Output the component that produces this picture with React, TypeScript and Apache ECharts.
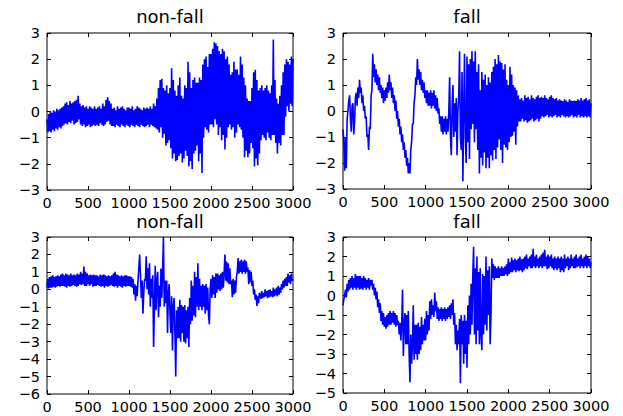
import React, { useEffect, useRef } from "react";
import * as echarts from "echarts";

// sample spacing along x (samples index)
const STEP = 10;
const xTicks = [0, 500, 1000, 1500, 2000, 2500, 3000];
const titles = ["non-fall", "fall", "non-fall", "fall"];
const yRanges = [
  [-3, 3],
  [-3, 3],
  [-6, 3],
  [-5, 3],
];

// values (upper / lower envelope alternately), one every 10 samples, rows of 200 samples
const nonFallTop = [
  -0.3, -0.8, -0.1, -0.75, 0.0, -0.8, -0.05, -0.7, 0.05, -0.75, 0.0, -0.65, 0.1, -0.7, 0.05, -0.6, 0.1, -0.65, 0.15, -0.55,
  0.2, -0.5, 0.3, -0.45, 0.35, -0.5, 0.25, -0.4, 0.4, -0.45, 0.3, -0.35, 0.35, -0.5, 0.4, -0.45, 0.45, -0.4, 0.6, -0.3,
  0.3, -0.5, 0.2, -0.55, 0.25, -0.5, 0.15, -0.6, 0.2, -0.55, 0.1, -0.5, 0.2, -0.6, 0.15, -0.55, 0.1, -0.5, 0.2, -0.55,
  0.1, -0.5, 0.15, -0.55, 0.2, -0.45, 0.1, -0.5, 0.3, -0.55, 0.2, -0.5, 0.45, -0.4, 0.55, -0.35, 0.4, -0.5, 0.3, -0.55,
  0.1, -0.55, 0.15, -0.6, 0.05, -0.5, 0.2, -0.55, 0.1, -0.6, 0.15, -0.5, 0.2, -0.55, 0.1, -0.6, 0.05, -0.5, 0.15, -0.55,
  0.15, -0.6, 0.1, -0.5, 0.2, -0.55, 0.05, -0.6, 0.1, -0.5, 0.2, -0.55, 0.15, -0.6, 0.1, -0.5, 0.05, -0.55, 0.15, -0.6,
  0.1, -0.55, 0.15, -0.5, 0.1, -0.6, 0.2, -0.5, 0.1, -0.55, 0.3, -0.6, 0.2, -0.65, 0.5, -0.7, 0.9, -0.8, 1.2, -0.6,
  1.25, -1.0, 0.9, -0.85, 0.8, -1.3, 1.0, -1.2, 0.7, -1.1, 0.9, -1.4, 1.65, -1.8, 1.2, -1.6, 0.8, -1.9, 0.6, -1.85,
  1.0, -1.7, 1.3, -1.6, 0.6, -1.95, 0.5, -1.8, 1.0, -1.5, 0.9, -1.7, 1.9, -2.1, 1.5, -1.9, 0.9, -2.2, 1.2, -1.6,
  1.3, -1.5, 1.1, -1.3, 1.1, -1.9, 1.3, -1.6, 1.2, -2.35, 1.8, -1.0, 2.0, -0.6, 2.1, -0.7, 1.7, -0.8, 2.2, -0.5,
  2.2, -0.5, 2.4, -0.6, 2.65, -0.3, 2.6, -0.5, 2.5, -0.9, 2.3, -0.6, 2.2, -1.1, 2.4, -0.9, 2.3, -1.45, 2.0, -1.0,
  2.1, -0.6, 1.8, -0.5, 1.4, -0.7, 1.5, -0.6, 1.9, -1.0, 1.6, -0.8, 1.6, -0.5, 1.4, -0.6, 2.1, -0.7, 1.8, -1.0,
  1.3, -1.75, 1.0, -1.5, 0.5, -1.75, 0.4, -1.6, 0.4, -1.2, 0.9, -1.4, 1.5, -2.1, 1.6, -1.8, 1.2, -2.05, 0.8, -1.6,
  0.9, -1.1, 1.0, -0.9, 0.8, -1.0, 0.9, -1.1, 1.0, -0.8, 0.8, -1.0, 0.7, -1.1, 1.0, -0.9, 2.75, -0.9, 1.2, -1.2,
  0.5, -1.6, 0.3, -1.2, 0.6, -1.3, 1.0, -0.9, 1.5, -0.9, 1.8, -0.2, 2.0, 0.2, 1.9, 0.0, 1.8, 0.3, 2.1, 0.2,
  2.0,
];

const fallTop = [
  -0.7, -1.2, -2.3, -1.0, -2.2, -0.3, 0.0, 0.4, 0.6, -0.3, -0.8, 0.2, 0.3, -0.9, -0.4, 0.5, 0.7, 0.2, 0.9, 0.5,
  1.2, 0.7, 0.9, 0.3, 0.6, 0.0, 0.2, -0.3, -0.2, -1.0, -0.9, -1.5, -0.6, -0.7, 0.6, 0.8, 2.2, 1.3, 1.8, 1.1,
  1.6, 1.0, 1.4, 0.8, 1.3, 0.7, 1.0, 0.5, 0.9, 0.3, 0.8, 0.4, 0.9, 0.5, 1.1, 0.7, 1.4, 0.8, 1.1, 0.5,
  0.9, 0.3, 0.6, 0.0, 0.4, -0.3, 0.0, -0.6, -0.3, -0.9, -0.6, -1.2, -0.9, -1.5, -1.2, -1.8, -1.5, -2.1, -1.8, -2.4,
  -2.0, -2.4, -1.5, -1.2, -0.5, -0.5, 0.3, 0.6, 1.3, 1.0, 2.0, 1.2, 1.6, 1.0, 1.5, 0.8, 1.2, 0.7, 1.1, 0.5,
  0.8, 0.3, 0.8, 0.2, 0.7, 0.2, 0.8, 0.1, 0.7, 0.2, 0.8, 0.1, 0.6, 0.0, 0.5, -0.1, 0.1, -0.5, -0.2, -0.8,
  -0.2, -0.9, -0.3, -0.8, -0.2, -0.9, -0.3, -0.8, 0.0, 1.3, -1.0, -1.7, 0.2, 1.0, -1.0, 0.3, -0.8, 0.5, -1.7, 0.0,
  0.5, 2.3, -1.0, -1.5, 1.5, -2.7, 0.0, 2.2, -1.0, -2.0, 2.1, -1.2, 1.8, -1.85, 2.0, -0.7, 2.3, -0.5, 1.9, -1.2,
  2.3, -0.7, 1.5, -1.5, 1.8, -2.4, 0.8, -1.8, 1.5, -2.1, 1.2, -1.6, 1.4, -2.2, 1.0, -1.8, 1.3, -2.2, 1.1, -1.7,
  1.5, -1.9, 1.7, -1.5, 2.0, -1.85, 1.8, -1.4, 2.15, -1.1, 1.9, -1.5, 1.85, -2.0, 1.6, -1.3, 1.8, -1.4, 1.2, -1.5,
  1.0, -1.2, 1.7, -1.0, 1.4, -0.95, 1.0, -0.8, 0.9, -1.3, 0.8, -0.6, 0.6, -0.4, 0.45, -0.4, 0.5, -0.3, 0.4, -0.4,
  0.6, -0.35, 0.5, -0.45, 0.55, -0.4, 0.45, -0.35, 0.6, -0.3, 0.5, -0.4, 0.45, -0.35, 0.55, -0.3, 0.6, -0.4, 0.5, -0.3,
  0.55, -0.2, 0.5, -0.25, 0.6, -0.2, 0.5, -0.15, 0.45, -0.25, 0.55, -0.2, 0.6, -0.25, 0.5, -0.2, 0.45, -0.15, 0.5, -0.25,
  0.4, -0.2, 0.45, -0.25, 0.4, -0.15, 0.38, -0.2, 0.45, -0.25, 0.4, -0.2, 0.35, -0.25, 0.45, -0.2, 0.4, -0.15, 0.38, -0.25,
  0.4, -0.2, 0.38, -0.25, 0.45, -0.15, 0.4, -0.25, 0.5, -0.2, 0.4, -0.25, 0.45, -0.2, 0.5, -0.25, 0.4, -0.2, 0.45, -0.25,
  0.3,
];

const nonFallBottom = [
  0.1, 0.6, 0.05, 0.7, 0.1, 0.75, 0.1, 0.8, 0.15, 0.7, 0.1, 0.75, 0.15, 0.8, 0.2, 0.75, 0.15, 0.85, 0.2, 0.9,
  0.2, 0.8, 0.15, 0.9, 0.1, 0.85, 0.2, 0.8, 0.15, 0.9, 0.2, 0.8, 0.25, 0.85, 0.2, 0.8, 0.15, 0.9, 0.2, 0.85,
  0.3, 1.0, 0.25, 0.9, 0.3, 1.3, 0.2, 1.0, 0.2, 0.9, 0.3, 0.8, 0.2, 0.85, 0.3, 0.8, 0.15, 0.85, 0.2, 0.8,
  0.2, 0.8, 0.25, 0.75, 0.2, 0.85, 0.15, 0.8, 0.2, 0.85, 0.1, 0.8, 0.2, 0.75, 0.15, 0.8, 0.2, 0.75, 0.25, 0.8,
  0.2, 0.9, 0.15, 1.0, 0.2, 0.85, 0.1, 0.8, 0.2, 0.75, 0.15, 0.8, 0.1, 0.75, 0.2, 0.8, 0.15, 0.8, 0.2, 0.75,
  0.2, 0.75, 0.15, 0.7, 0.1, 0.6, -0.3, 0.3, -0.65, 0.2, -0.4, 0.5, 1.2, 2.0, 0.8, -0.5, 0.5, -1.4, -0.2, 0.6,
  0.5, 1.9, 0.0, 1.2, -0.3, 1.5, -1.0, 0.6, -0.5, 0.8, -3.3, -1.0, 1.35, -1.2, 0.5, 1.0, -1.6, 0.2, -1.0, 1.2,
  -0.5, 1.0, 3.0, -1.0, 0.5, -0.8, 0.5, -2.5, -0.2, 0.3, -1.4, -2.5, -0.4, -3.5, -1.0, -0.5, -2.5, -5.0, -1.2, -2.8,
  -1.0, -2.8, -0.6, -3.0, -0.9, -2.5, -1.0, -3.0, -0.9, -3.1, -1.2, -2.8, -1.0, -3.3, -0.5, -2.0, 0.5, -1.8, 0.2, -1.5,
  1.0, -1.6, 0.7, -1.0, 1.5, -1.2, 0.6, -1.0, 0.2, -1.2, 0.3, -1.0, 0.2, -1.4, 0.3, -1.2, 0.1, -1.5, -2.0, 0.0,
  0.6, -0.5, 0.8, -0.3, 0.7, -0.5, 0.9, -0.2, 0.9, 0.0, 0.8, -0.1, 0.9, 0.0, 1.0, 0.1, 0.9, 2.0, 0.5, 1.6,
  0.4, 1.5, 0.3, 1.2, 0.3, 0.5, -0.45, 0.6, -0.3, 0.5, -0.2, 0.7, 1.0, 1.8, 0.9, 1.6, 1.0, 1.7, 0.9, 1.6,
  1.0, 1.7, 0.9, 1.6, 1.0, 1.25, 0.3, 1.1, 0.4, 1.0, 0.2, 0.5, -0.3, 0.0, -0.6, -0.3, -0.95, -0.4, -0.8, -0.2,
  -0.3, -0.55, -0.1, -0.5, -0.2, -0.45, 0.0, -0.4, -0.1, -0.5, -0.05, -0.45, 0.0, -0.4, -0.1, -0.45, 0.1, -0.4, 0.0, -0.35,
  0.1, -0.4, 0.2, -0.3, 0.1, -0.2, 0.3, 0.0, 0.5, 0.1, 0.6, 0.2, 0.7, 0.2, 0.9, 0.4, 0.8, 0.3, 0.9, 0.5,
  0.6,
];

const fallBottom = [
  -0.5, -0.2, 0.0, 0.3, -0.1, 0.6, 0.2, 0.8, 0.3, 0.9, 0.4, 1.0, 0.3, 0.9, 0.4, 1.1, 0.3, 1.0, 0.4, 1.0,
  0.3, 1.0, 0.35, 0.9, 0.3, 1.0, 0.4, 0.9, 0.3, 0.8, 0.4, 0.9, 0.3, 0.8, 0.5, 0.8, 0.3, 0.6, 0.0, 0.4,
  -0.2, 0.2, -0.6, -0.2, -0.9, -0.4, -1.3, -0.8, -1.5, -0.9, -1.6, -1.1, -1.7, -1.0, -1.6, -0.9, -1.5, -0.8, -1.5, -0.9,
  -1.4, -0.8, -1.5, -0.9, -1.6, -1.0, -1.5, -1.3, -2.0, -1.4, -2.3, -1.5, 0.3, -3.1, -1.5, -0.9, -2.5, -1.0, -2.5, -0.8,
  -3.0, -4.45, -2.0, -3.5, -2.5, -0.5, -3.3, -1.5, -3.0, -1.5, -3.3, -1.4, -3.0, -1.6, -2.8, -1.1, -2.5, -1.5, -2.3, -1.2,
  -2.3, -0.8, -2.0, -1.0, -1.8, -0.3, -1.2, -0.2, -1.0, -0.5, -1.1, 0.15, -0.8, -0.3, -1.2, -0.6, -1.3, -0.7, -1.2, -0.6,
  -1.3, -0.7, -1.2, -0.6, -1.3, -0.7, -1.2, -0.6, -1.1, -0.5, -1.2, -0.4, -1.0, -0.2, -1.5, -0.9, -2.5, -1.5, -2.8, -1.8,
  -2.5, -1.2, -4.5, -1.0, -2.5, -1.3, -3.5, -1.0, -3.0, -1.3, -3.7, -0.5, -2.5, 0.0, -2.0, 0.6, -1.5, 1.0, 2.5, -2.0,
  1.4, -2.5, 2.0, -1.8, 1.2, -2.5, 1.4, -2.0, -2.8, 1.1, -2.0, 1.0, -1.5, 2.0, -1.8, 1.3, -1.0, 1.5, -2.5, -1.0,
  1.9, 0.9, 1.6, 0.8, 1.5, 0.9, 1.4, 0.9, 1.5, 0.9, 1.4, 1.0, 1.5, 1.0, 1.4, 1.0, 1.5, 1.1, 1.6, 1.0,
  1.9, 1.1, 1.7, 1.2, 1.95, 1.2, 1.8, 1.3, 1.9, 1.2, 1.8, 1.3, 1.9, 1.25, 2.0, 1.3, 1.85, 1.2, 1.9, 1.3,
  2.0, 1.4, 2.1, 1.35, 1.9, 1.5, 2.0, 1.4, 2.1, 1.4, 2.4, 1.5, 2.0, 1.4, 2.1, 1.5, 1.9, 1.4, 2.0, 1.5,
  2.1, 1.4, 2.2, 1.5, 2.35, 1.5, 2.0, 1.35, 2.1, 1.4, 2.0, 1.5, 2.1, 1.4, 1.9, 1.3, 2.0, 1.4, 1.9, 1.3,
  2.0, 1.4, 1.9, 1.2, 2.0, 1.3, 1.9, 1.2, 2.1, 1.4, 1.9, 1.5, 2.0, 1.3, 1.9, 1.4, 2.1, 1.5, 1.9, 1.4,
  2.0, 1.4, 2.1, 1.45, 1.9, 1.5, 2.0, 1.4, 2.1, 1.5, 1.9, 1.4, 2.0, 1.5, 2.1, 1.4, 2.0, 1.5, 1.9, 1.4,
  1.7,
];

const seriesValues = [nonFallTop, fallTop, nonFallBottom, fallBottom];

const FONT = "DejaVu Sans";

export default function App() {
  const ref = useRef<HTMLDivElement>(null);

  useEffect(() => {
    if (!ref.current) return;
    const chart = echarts.init(ref.current, undefined, { renderer: "svg" });

    const grids = [
      { left: 47, top: 33, width: 246, height: 157 },
      { left: 343, top: 33, width: 248, height: 156 },
      { left: 47, top: 237, width: 246, height: 157 },
      { left: 343, top: 237, width: 248, height: 156 },
    ];

    const minus = (v: number) => String(v).replace("-", "\u2212");
    const plain = (v: number) => String(v);
    const tick = { show: true, inside: true, length: 4, lineStyle: { color: "#000", width: 1 } };
    const label = { color: "#000", fontSize: 14.5, fontFamily: FONT };
    const noLine = { show: false, onZero: false };

    const xAxis: any[] = [];
    const yAxis: any[] = [];
    const series: any[] = [];
    const title: any[] = [];

    grids.forEach((g, i) => {
      const [ymin, ymax] = yRanges[i];
      xAxis.push({
        type: "value", gridIndex: i, position: "bottom",
        min: xTicks[0], max: xTicks[xTicks.length - 1], interval: 500,
        axisLine: noLine, axisTick: tick, splitLine: { show: false },
        axisLabel: { ...label, margin: 5, formatter: plain, showMinLabel: true, showMaxLabel: true, hideOverlap: false },
      });
      xAxis.push({
        type: "value", gridIndex: i, position: "top",
        min: xTicks[0], max: xTicks[xTicks.length - 1], interval: 500,
        axisLine: noLine, axisTick: tick, splitLine: { show: false },
        axisLabel: { show: false },
      });
      yAxis.push({
        type: "value", gridIndex: i, position: "left",
        min: ymin, max: ymax, interval: 1,
        axisLine: noLine, axisTick: tick, splitLine: { show: false },
        axisLabel: { ...label, margin: 7, formatter: minus, showMinLabel: true, showMaxLabel: true, hideOverlap: false },
      });
      yAxis.push({
        type: "value", gridIndex: i, position: "right",
        min: ymin, max: ymax, interval: 1,
        axisLine: noLine, axisTick: tick, splitLine: { show: false },
        axisLabel: { show: false },
      });
      series.push({
        type: "line",
        xAxisIndex: i * 2,
        yAxisIndex: i * 2,
        data: seriesValues[i].map((v, k) => [k * STEP, v]),
        showSymbol: false,
        symbol: "none",
        lineStyle: { color: "#0000ff", width: 1.6 },
        itemStyle: { color: "#0000ff" },
      });
      title.push({
        text: titles[i],
        left: g.left + g.width / 2,
        top: i < 2 ? 7 : 212,
        textAlign: "center",
        padding: 0,
        textStyle: { fontSize: 18, fontWeight: "normal", color: "#000", fontFamily: FONT },
      });
    });

    chart.setOption({
      animation: false,
      backgroundColor: "#fff",
      title,
      grid: grids.map((g) => ({ ...g, show: true, borderColor: "#000", borderWidth: 1, backgroundColor: "transparent" })),
      xAxis,
      yAxis,
      series,
    });

    return () => chart.dispose();
  }, []);

  return (
    <div
      ref={ref}
      style={{ position: "fixed", left: 0, top: 0, width: 623, height: 416, background: "#fff" }}
    />
  );
}
